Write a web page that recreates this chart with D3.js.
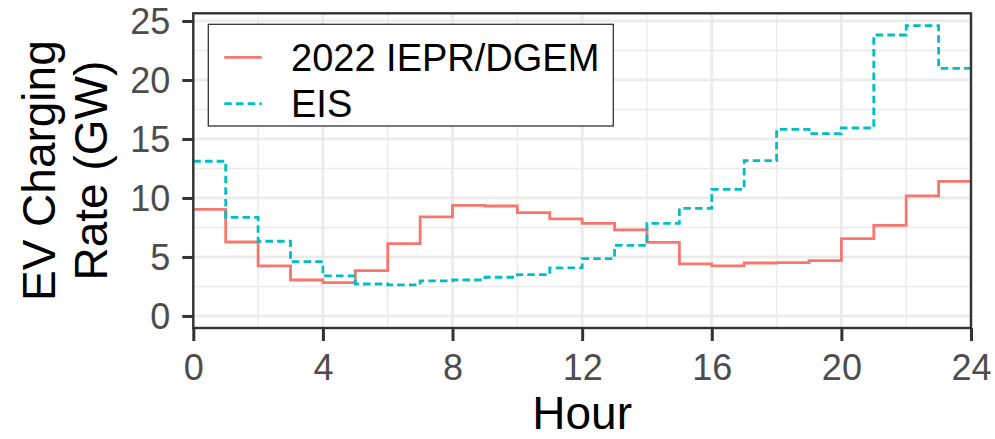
<!DOCTYPE html>
<html>
<head>
<meta charset="utf-8">
<script src="https://cdn.jsdelivr.net/npm/d3@7"></script>
<style>
  html, body { margin: 0; padding: 0; background: #fff; }
  svg { display: block; font-family: "Liberation Sans", Arial, sans-serif; }
</style>
</head>
<body>
<svg id="chart" width="995" height="439"></svg>
<script>
// ---- data ----
const hours = [0,1,2,3,4,5,6,7,8,9,10,11,12,13,14,15,16,17,18,19,20,21,22,23];
const ieprValues = [9.04, 6.27, 4.24, 3.05, 2.82, 3.84, 6.13, 8.39, 9.38, 9.32, 8.76, 8.22,
                    7.85, 7.29, 6.24, 4.41, 4.24, 4.49, 4.52, 4.69, 6.55, 7.68, 10.17, 11.41];
const eisValues  = [13.11, 8.36, 6.33, 4.60, 3.39, 2.71, 2.63, 2.97, 3.05, 3.28, 3.50, 4.07,
                    4.86, 5.99, 7.85, 9.12, 10.73, 13.16, 15.82, 15.45, 15.93, 23.81, 24.60, 20.99];
const seriesNames = ["2022 IEPR/DGEM", "EIS"];
const xTicks = [0, 4, 8, 12, 16, 20, 24];
const xMinorTicks = [2, 6, 10, 14, 18, 22];
const yTicks = [0, 5, 10, 15, 20, 25];
const yMinorTicks = [2.5, 7.5, 12.5, 17.5, 22.5];

// ---- layout ----
const L = 193.3, R = 971, T = 13.3, B = 328;
const svg = d3.select("#chart");
const x = d3.scaleLinear().domain([0, 24]).range([L, R]);
const y = d3.scaleLinear().domain([-1.02, 25.65]).range([B, T]);

// panel background
svg.append("rect").attr("x", L).attr("y", T).attr("width", R - L).attr("height", B - T).attr("fill", "#fff");

// grid
const grid = svg.append("g");
grid.selectAll(".xm").data(xMinorTicks).join("line")
  .attr("x1", d => x(d)).attr("x2", d => x(d)).attr("y1", T).attr("y2", B)
  .attr("stroke", "#EBEBEB").attr("stroke-width", 1.4);
grid.selectAll(".ym").data(yMinorTicks).join("line")
  .attr("y1", d => y(d)).attr("y2", d => y(d)).attr("x1", L).attr("x2", R)
  .attr("stroke", "#EBEBEB").attr("stroke-width", 1.4);
grid.selectAll(".xM").data(xTicks).join("line")
  .attr("x1", d => x(d)).attr("x2", d => x(d)).attr("y1", T).attr("y2", B)
  .attr("stroke", "#EBEBEB").attr("stroke-width", 2.8);
grid.selectAll(".yM").data(yTicks).join("line")
  .attr("y1", d => y(d)).attr("y2", d => y(d)).attr("x1", L).attr("x2", R)
  .attr("stroke", "#EBEBEB").attr("stroke-width", 2.8);

// lines
function stepData(vals) {
  const pts = hours.map((h, i) => [h, vals[i]]);
  pts.push([24, vals[vals.length - 1]]);
  return pts;
}
const line = d3.line().x(d => x(d[0])).y(d => y(d[1])).curve(d3.curveStepAfter);
svg.append("path").attr("d", line(stepData(ieprValues)))
  .attr("fill", "none").attr("stroke", "#F8766D").attr("stroke-width", 2.8);
svg.append("path").attr("d", line(stepData(eisValues)))
  .attr("fill", "none").attr("stroke", "#00BFC4").attr("stroke-width", 2.8)
  .attr("stroke-dasharray", "7.5 4.2");

// panel border
svg.append("rect").attr("x", L).attr("y", T).attr("width", R - L).attr("height", B - T)
  .attr("fill", "none").attr("stroke", "#333333").attr("stroke-width", 2.4);

// axes
const xAxis = d3.axisBottom(x).tickValues(xTicks).tickSize(13).tickPadding(13).tickFormat(d3.format("d"));
const gx = svg.append("g").attr("transform", `translate(0,${B})`).call(xAxis);
gx.select(".domain").remove();
gx.selectAll(".tick line").attr("stroke", "#333333").attr("stroke-width", 3);
gx.selectAll(".tick text").attr("fill", "#4D4D4D").style("font-size", "36px")
  .style("font-family", "'Liberation Sans', Arial, sans-serif").attr("dy", "0.71em");

const yAxis = d3.axisLeft(y).tickValues(yTicks).tickSize(11).tickPadding(12).tickFormat(d3.format("d"));
const gy = svg.append("g").attr("transform", `translate(${L},0)`).call(yAxis);
gy.select(".domain").remove();
gy.selectAll(".tick line").attr("stroke", "#333333").attr("stroke-width", 3);
gy.selectAll(".tick text").attr("fill", "#4D4D4D").style("font-size", "36px")
  .style("font-family", "'Liberation Sans', Arial, sans-serif").attr("dy", "0.36em");

// axis titles
svg.append("text").attr("x", (L + R) / 2).attr("y", 429).attr("text-anchor", "middle")
  .style("font-size", "46px").attr("fill", "#000").text("Hour");
const yt = svg.append("g").attr("transform", `translate(0,${(T + B) / 2}) rotate(-90)`);
yt.append("text").attr("x", 0).attr("y", 55).attr("text-anchor", "middle")
  .style("font-size", "46px").attr("fill", "#000").text("EV Charging");
yt.append("text").attr("x", 0).attr("y", 107).attr("text-anchor", "middle")
  .style("font-size", "46px").attr("fill", "#000").text("Rate (GW)");

// legend
const lg = svg.append("g");
lg.append("rect").attr("x", 208.3).attr("y", 24.3).attr("width", 405).attr("height", 101.7)
  .attr("fill", "#fff").attr("stroke", "#333333").attr("stroke-width", 1.3);
const legendItems = [
  { name: seriesNames[0], color: "#F8766D", dash: null, ly: 57.3 },
  { name: seriesNames[1], color: "#00BFC4", dash: "7.5 4.2", ly: 103.7 }
];
legendItems.forEach(it => {
  lg.append("line").attr("x1", 224.3).attr("x2", 261.7).attr("y1", it.ly).attr("y2", it.ly)
    .attr("stroke", it.color).attr("stroke-width", 2.8).attr("stroke-dasharray", it.dash);
  lg.append("text").attr("x", 291).attr("y", it.ly).attr("dy", "0.36em")
    .style("font-size", "38px").attr("fill", "#000").text(it.name);
});
</script>
</body>
</html>
